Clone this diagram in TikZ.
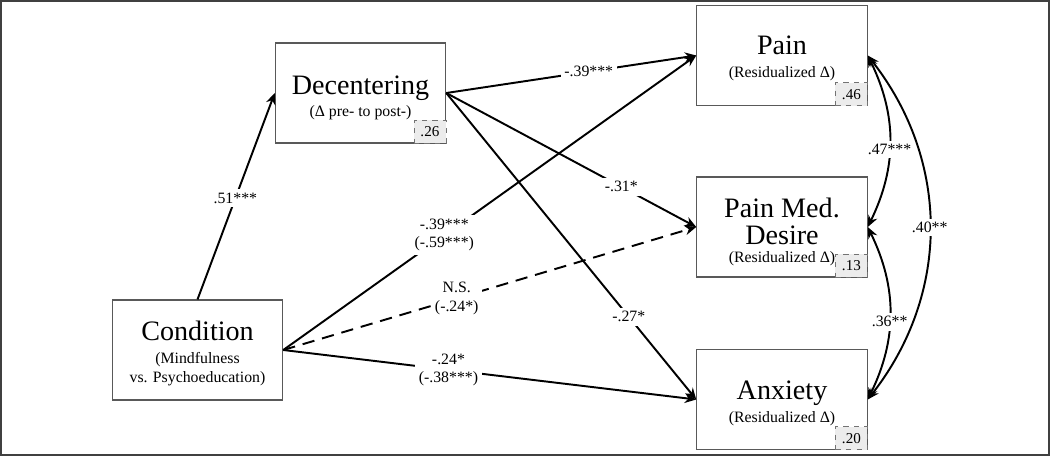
\documentclass[tikz,border=0pt]{standalone}
\usepackage{fontspec}
\setmainfont{Liberation Serif}
\usetikzlibrary{arrows.meta, positioning}
\tikzset{
	>={Stealth[length=6.5pt,width=5.5pt]}, % filled arrow heads
	var/.style={draw=black!65, line width=0.6pt, minimum width=3.41cm, minimum height=2cm, inner sep=0pt}, % observed variable
	rsq/.style={draw=black!55, dashed, fill=gray!15, minimum width=0.64cm, minimum height=0.46cm, inner sep=0pt, font=\fontsize{8.6}{9}\selectfont}, % explained variance
	title/.style={anchor=base, font=\fontsize{16}{18}\selectfont},
	sub/.style={anchor=base, font=\fontsize{9}{10}\selectfont},
	eff/.style={->, line width=1.1pt}, % directed effect
	cov/.style={<->, line width=1.1pt}, % residual correlation
	coef/.style={fill=white, inner sep=2pt, align=center, font=\fontsize{9}{10.5}\selectfont},
}
\begin{document}
\begin{tikzpicture}[x=0.02cm, y=-0.02cm]
	\useasboundingbox (0,0) rectangle (1050,456);
	\draw[black!75, line width=1.2pt] (1,1) rectangle (1049,455);

	% boxes
	\node[var] (cond) at (197.5,350) {};
	\node[var] (dec) at (360.5,93) {};
	\node[var] (pain) at (782,55.5) {};
	\node[var] (pmd) at (782,227) {};
	\node[var] (anx) at (782,399.5) {};

	% texts
	\node[title] (condt) at (197.5,340) {Condition};
	\node[sub] (conds1) at (197.5,363) {(Mindfulness};
	\node[sub] (conds2) at (197.5,382) {vs. Psychoeducation)};
	\node[title] (dect) at (360.5,94) {Decentering};
	\node[sub] (decs) at (360.5,116) {(Δ pre- to post-)};
	\node[title] (paint) at (782,55) {Pain};
	\node[sub] (pains) at (782,77) {(Residualized Δ)};
	\node[title] (pmdt1) at (782,217) {Pain Med.};
	\node[title] (pmdt2) at (782,244) {Desire};
	\node[sub] (pmds) at (782,262) {(Residualized Δ)};
	\node[title] (anxt) at (782,399) {Anxiety};
	\node[sub] (anxs) at (782,422) {(Residualized Δ)};

	% R squared
	\node[rsq, anchor=south east] (decr) at (dec.south east) {.26};
	\node[rsq, anchor=south east] (painr) at (pain.south east) {.46};
	\node[rsq, anchor=south east] (pmdr) at (pmd.south east) {.13};
	\node[rsq, anchor=south east] (anxr) at (anx.south east) {.20};

	% paths
	\draw[eff] (cond.north) -- node[coef, pos=0.49] {.51***} (dec.west);
	\draw[eff] (dec.east) -- node[coef, pos=0.57] {-.39***} (pain.west);
	\draw[eff] (dec.east) -- node[coef, pos=0.70] {-.31*} (pmd.west);
	\draw[eff] (dec.east) -- node[coef, pos=0.73] {-.27*} (anx.west);
	\draw[eff] (cond.east) -- node[coef, pos=0.39] {-.39***\\(-.59***)} (pain.west);
	\draw[eff, dash pattern=on 7pt off 4.5pt] (cond.east) -- node[coef, pos=0.42] {N.S.\\(-.24*)} (pmd.west);
	\draw[eff] (cond.east) -- node[coef, pos=0.40] {-.24*\\(-.38***)} (anx.west);

	% correlations
	\draw[cov] (pain.east) to[bend left=26] node[coef, pos=0.55] {.47***} (pmd.east);
	\draw[cov] (pmd.east) to[bend left=26] node[coef, pos=0.55] {.36**} (anx.east);
	\draw[cov] (pain.east) to[bend left=38] node[coef] {.40**} (anx.east);
\end{tikzpicture}
\end{document}
